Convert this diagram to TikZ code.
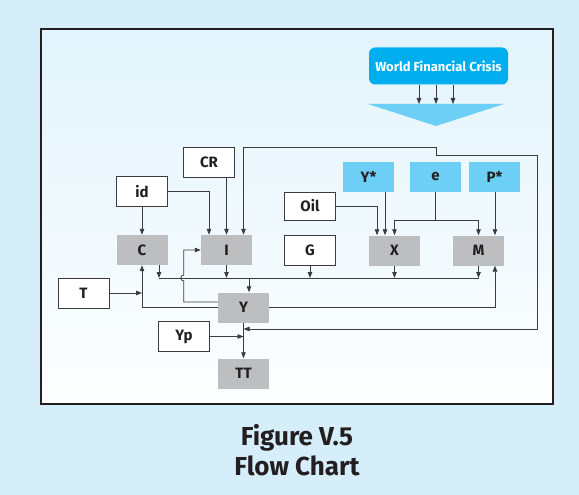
\documentclass[tikz,border=0pt]{standalone}
\usepackage{fontspec}
\setmainfont{Fira Sans}
\usetikzlibrary{arrows.meta,calc}
\definecolor{bgout}{RGB}{214,237,250}
\definecolor{bgtop}{RGB}{226,244,252}
\definecolor{bgbot}{RGB}{253,254,255}
\definecolor{cyanA}{RGB}{0,174,239}
\definecolor{cyanB}{RGB}{109,207,246}
\definecolor{grayA}{RGB}{188,190,192}
\definecolor{lineC}{RGB}{60,59,61}
\definecolor{textC}{RGB}{35,31,32}
\begin{document}
\begin{tikzpicture}[x=1pt,y=-1pt,
  box/.style={minimum width=51pt,minimum height=30pt,inner sep=0pt,font=\fontsize{15}{17}\selectfont\bfseries,text=textC},
  wbox/.style={box,draw=lineC,fill=white,line width=0.8pt},
  gbox/.style={box,fill=grayA},
  cbox/.style={box,fill=cyanB},
  conn/.style={draw=lineC,line width=0.8pt},
  arr/.style={conn,-{Triangle[length=6pt,width=4.5pt]}},
  captxt/.style={font=\fontsize{26}{28}\selectfont\bfseries,text=textC,inner sep=0pt}
]
\useasboundingbox (0,0) rectangle (579,495);
\fill[bgout] (0,0) rectangle (579,495);
\shade[top color=bgtop,bottom color=bgbot] (41,29) rectangle (553,404);
\draw[textC,line width=1.5pt] (41,29) rectangle (553,404);

% world financial crisis
\node[fill=cyanA,rounded corners=6pt,minimum width=139pt,minimum height=37pt,inner sep=0pt,
      text=white,font=\fontsize{13}{15}\selectfont\bfseries] (W) at (438.5,66) {World Financial Crisis};
\fill[cyanB] (368,104) -- (504,104) -- (436,126) -- cycle;
\coordinate (tri) at (436,104);
\foreach \dx in {-17,0,17}{
  \draw[arr] ([xshift=\dx pt]tri |- W.south) -- ([xshift=\dx pt]tri);
}

% nodes
\node[wbox] (CR) at (209,162) {CR};
\node[wbox] (id) at (142,191.5) {id};
\node[gbox] (C) at (142,250) {C};
\node[gbox] (I) at (226.5,250) {I};
\node[wbox,minimum height=28pt] (Oil) at (310,206) {Oil};
\node[wbox] (G) at (310,250) {G};
\node[gbox] (X) at (394.5,250.5) {X};
\node[gbox] (M) at (478.5,250.5) {M};
\node[cbox] (Ys) at (368.5,177) {Y*};
\node[cbox] (e) at (435.5,177) {e};
\node[cbox] (Ps) at (494.5,177) {P*};
\node[wbox] (T) at (83.5,293) {T};
\node[gbox] (Y) at (243.5,307.5) {Y};
\node[wbox] (Yp) at (184,336.5) {Yp};
\node[gbox] (TT) at (243.5,373.5) {TT};

% connectors into C and I
\draw[arr] (id.south) -- (C.north);
\draw[arr] (id.east) -| ([xshift=-17.5pt]I.north);
\draw[arr] (I.north |- CR.south) -- (I.north);
\coordinate (eJ) at (436,155);
\draw[arr] (eJ) -- ++(0,-8) -| ([xshift=17pt]I.north);
\coordinate (fb) at (537,329);
\draw[arr] (eJ) -| (fb) -- (Y.south |- fb);

% connectors into X and M
\draw[arr] (Oil.east) -| ([xshift=-17.5pt]X.north);
\draw[arr] ([xshift=-9.5pt]X.north |- Ys.south) -- ([xshift=-9.5pt]X.north);
\draw[conn] (e.south) -- ++(0,28) coordinate (eb);
\draw[arr] (eb) -| (X.north);
\draw[arr] (eb) -| (M.north);
\draw[arr] ([xshift=16.5pt]M.north |- Ps.south) -- ([xshift=16.5pt]M.north);

% bus to Y
\coordinate (busL) at (159,278);
\coordinate (busR) at (478.5,278);
\draw[conn] (busL) -- (busR);
\draw[arr] ([xshift=17pt]C.south) -- ([xshift=17pt]C.south |- busL);
\draw[arr] (I.south) -- (I.south |- busL);
\draw[arr] (G.south) -- (G.south |- busL);
\draw[arr] (X.south) -- (X.south |- busL);
\draw[arr] (M.south) -- (M.south |- busL);
\draw[arr] ([xshift=5.5pt]Y.north |- busL) -- ([xshift=5.5pt]Y.north);

% feedback from Y
\draw[arr] ([yshift=5.5pt]Y.west) -- ++(-34,0) -- ++(0,-21)
   .. controls ++(-4,0) and ++(-4,0) .. ++(0,-6) |- (I.west);
\draw[arr] (Y.west) -| (C.south);
\draw[arr] (T.east) -- (T.east -| C.south);
\draw[arr] (Y.east) -| ([xshift=16.5pt]M.south);
\draw[arr] (Y.south) -- (TT.north);
\draw[arr] (Yp.east) -- (Yp.east -| Y.south);

% caption
\node[captxt] (cap1) at (297,438) {Figure V.5};
\node[captxt] (cap2) at (297,466) {Flow Chart};
\end{tikzpicture}
\end{document}
